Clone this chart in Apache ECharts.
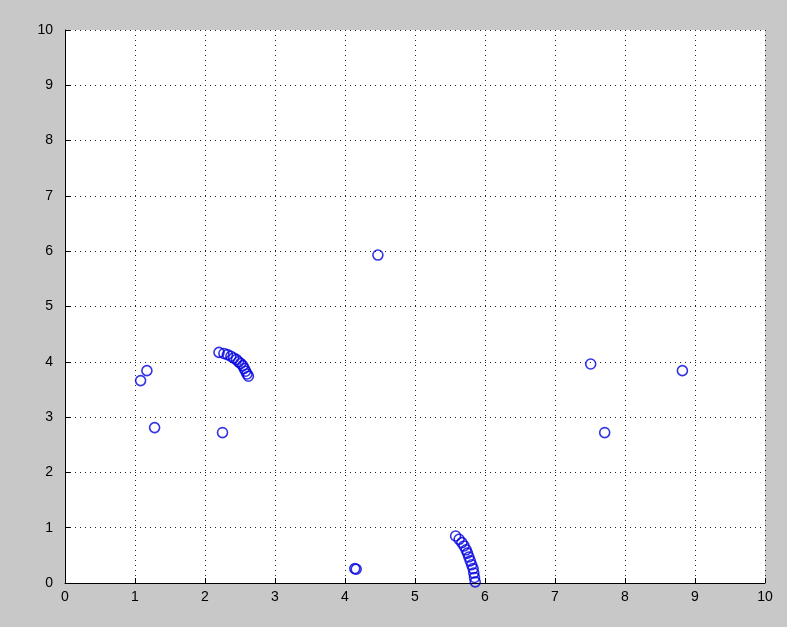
<!DOCTYPE html>
<html>
<head>
<meta charset="utf-8">
<script src="https://cdn.jsdelivr.net/npm/echarts@6/dist/echarts.min.js"></script>
<style>html,body{margin:0;padding:0;background:#c8c8c8;}#c{width:787px;height:627px;}</style>
</head>
<body>
<div id="c"></div>
<script>
const xValues = [4.47, 1.08, 1.17, 1.28, 2.25, 7.51, 7.71, 8.82, 4.14, 4.16,
  2.20, 2.27, 2.32, 2.37, 2.41, 2.45, 2.48, 2.51, 2.54, 2.56, 2.58, 2.60, 2.62,
  5.58, 5.63, 5.67, 5.70, 5.73, 5.75, 5.77, 5.79, 5.81, 5.83, 5.84, 5.85, 5.86];
const yValues = [5.93, 3.66, 3.84, 2.81, 2.72, 3.96, 2.72, 3.84, 0.26, 0.25,
  4.17, 4.15, 4.13, 4.10, 4.07, 4.04, 4.00, 3.97, 3.93, 3.88, 3.83, 3.78, 3.74,
  0.85, 0.79, 0.73, 0.67, 0.60, 0.54, 0.47, 0.40, 0.33, 0.26, 0.18, 0.10, 0.02];
const xTicks = ['0','1','2','3','4','5','6','7','8','9','10'];
const yTicks = ['0','1','2','3','4','5','6','7','8','9','10'];

const points = xValues.map((x, i) => [x, yValues[i]]);
const chart = echarts.init(document.getElementById('c'), null, {renderer: 'canvas'});
const axisCommon = {
  min: 0, max: 10, interval: 1,
  axisLine: {show: true, lineStyle: {color: '#000', width: 1}},
  axisTick: {show: true, inside: true, length: 5, lineStyle: {color: '#000'}},
  splitLine: {show: true, lineStyle: {color: '#222', width: 1, type: [1, 4]}},
  axisLabel: {color: '#000', fontFamily: 'Liberation Sans', fontSize: 14}
};
chart.setOption({
  backgroundColor: '#c8c8c8',
  animation: false,
  grid: {left: 65, right: 22, top: 30, bottom: 44, show: true, backgroundColor: '#fff', borderWidth: 0},
  xAxis: Object.assign({}, axisCommon, {type: 'value',
    axisLabel: Object.assign({}, axisCommon.axisLabel, {margin: 7, formatter: v => xTicks[Math.round(v)]})}),
  yAxis: Object.assign({}, axisCommon, {type: 'value',
    axisLabel: Object.assign({}, axisCommon.axisLabel, {margin: 12, formatter: v => yTicks[Math.round(v)]})}),
  series: [{
    type: 'scatter',
    data: points,
    symbol: 'circle',
    symbolSize: 10,
    itemStyle: {color: 'rgba(0,0,0,0)', borderColor: '#0000e0', borderWidth: 1.6}
  }]
});
</script>
</body>
</html>
